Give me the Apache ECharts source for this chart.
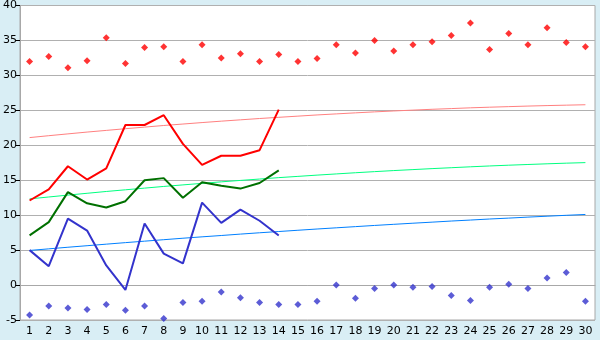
<!DOCTYPE html>
<html>
<head>
<meta charset="utf-8">
<script src="https://cdn.jsdelivr.net/npm/echarts@6/dist/echarts.min.js"></script>
<style>
html,body{margin:0;padding:0;background:#d9eef5;}
#c{width:600px;height:340px;}
</style>
</head>
<body>
<div id="c"></div>
<script>
var categories = ['1','2','3','4','5','6','7','8','9','10','11','12','13','14','15','16','17','18','19','20','21','22','23','24','25','26','27','28','29','30'];
var yTicks = {min: -5, max: 40, interval: 5};

var maxPoints = [32.0,32.7,31.1,32.1,35.4,31.7,34.0,34.1,32.0,34.4,32.5,33.1,32.0,33.0,32.0,32.4,34.4,33.2,35.0,33.5,34.4,34.8,35.7,37.5,33.7,36.0,34.4,36.8,34.7,34.1];
var minPoints = [-4.3,-3.0,-3.3,-3.5,-2.8,-3.6,-3.0,-4.8,-2.5,-2.3,-1.0,-1.8,-2.5,-2.8,-2.8,-2.3,0.0,-1.9,-0.5,0.0,-0.3,-0.2,-1.5,-2.2,-0.3,0.1,-0.5,1.0,1.8,-2.3];

var redLine = [12.1,13.7,17.0,15.1,16.7,22.9,22.9,24.3,20.2,17.2,18.5,18.5,19.3,25.1];
var greenLine = [7.1,9.0,13.3,11.7,11.1,12.0,15.0,15.3,12.5,14.7,14.2,13.8,14.6,16.4];
var blueLine = [5.0,2.7,9.5,7.8,2.8,-0.7,8.8,4.5,3.1,11.8,8.9,10.8,9.2,7.1];

var redTrend = [21.10,21.37,21.63,21.89,22.13,22.37,22.60,22.83,23.04,23.25,23.45,23.64,23.83,24.00,24.17,24.34,24.49,24.64,24.78,24.91,25.03,25.15,25.25,25.36,25.45,25.53,25.61,25.68,25.74,25.80];
var greenTrend = [12.33,12.60,12.87,13.13,13.39,13.63,13.87,14.11,14.33,14.55,14.77,14.97,15.17,15.37,15.55,15.73,15.90,16.07,16.23,16.38,16.52,16.66,16.79,16.92,17.04,17.15,17.25,17.35,17.44,17.52];
var blueTrend = [4.95,5.18,5.41,5.63,5.85,6.07,6.28,6.49,6.70,6.90,7.09,7.29,7.48,7.66,7.84,8.02,8.19,8.36,8.53,8.69,8.85,9.00,9.16,9.30,9.45,9.58,9.72,9.85,9.98,10.10];

var chart = echarts.init(document.getElementById('c'), null, {renderer: 'canvas'});
function trend(data, color) {
  return {type: 'line', data: data, symbol: 'none', silent: true,
    lineStyle: {color: color, width: 1}, z: 2, animation: false};
}
function main(data, color) {
  return {type: 'line', data: data, symbol: 'none', silent: true,
    lineStyle: {color: color, width: 2}, z: 3, animation: false};
}
function pts(data, color) {
  return {type: 'scatter', data: data, symbol: 'diamond', symbolSize: 7,
    itemStyle: {color: color}, z: 4, animation: false};
}
chart.setOption({
  backgroundColor: '#d9eef5',
  animation: false,
  grid: {left: 20, right: 5, top: 5, bottom: 20, show: true, backgroundColor: '#ffffff', borderColor: '#a8a8a8', borderWidth: 1},
  xAxis: {
    type: 'category', data: categories, boundaryGap: true,
    axisLine: {lineStyle: {color: '#a8a8a8', width: 1}},
    axisTick: {alignWithLabel: true, length: 5, lineStyle: {color: '#000000'}},
    axisLabel: {interval: 0, color: '#000000', fontFamily: 'DejaVu Sans', fontSize: 11, margin: 6},
    splitLine: {show: false}
  },
  yAxis: {
    type: 'value', min: yTicks.min, max: yTicks.max, interval: yTicks.interval,
    axisLine: {show: true, lineStyle: {color: '#a8a8a8', width: 1}},
    axisTick: {show: true, length: 4, lineStyle: {color: '#000000'}},
    axisLabel: {color: '#000000', fontFamily: 'DejaVu Sans', fontSize: 11, margin: 3},
    splitLine: {show: true, lineStyle: {color: '#b0b0b0', width: 1}}
  },
  series: [
    trend(redTrend, '#ff8080'),
    trend(greenTrend, '#00ff80'),
    trend(blueTrend, '#0080ff'),
    main(redLine, '#ff0000'),
    main(greenLine, '#007000'),
    main(blueLine, '#3333cc'),
    pts(maxPoints, '#ff0000'),
    pts(minPoints, '#3333cc')
  ]
});
</script>
</body>
</html>
